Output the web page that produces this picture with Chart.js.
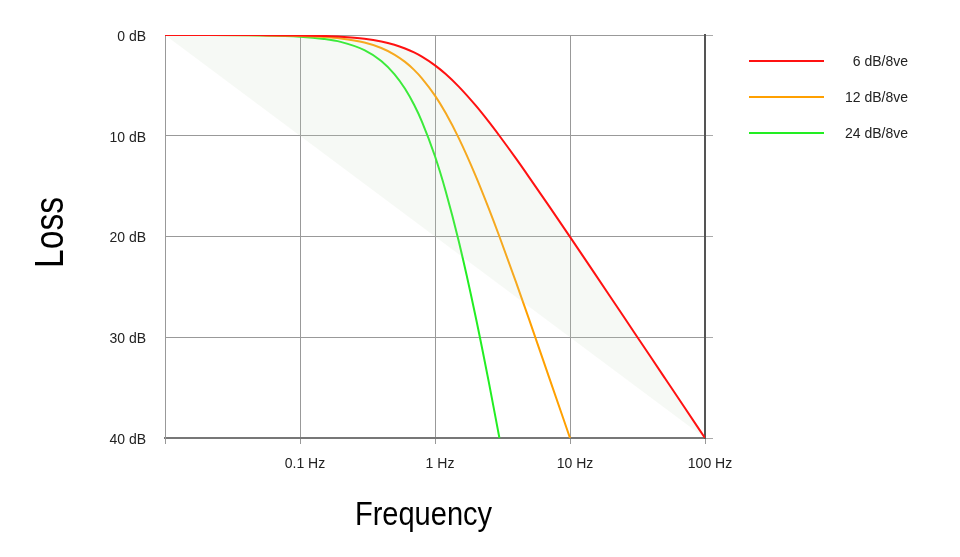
<!DOCTYPE html>
<html>
<head>
<meta charset="utf-8">
<script src="https://cdn.jsdelivr.net/npm/chart.js@4.4.1/dist/chart.umd.min.js"></script>
<style>
  html, body { margin: 0; padding: 0; background: #fff; }
  #wrap { width: 960px; height: 557px; position: relative; }
</style>
</head>
<body>
<div id="wrap"><canvas id="filterChart"></canvas></div>
<script>
const freqHz = [0.01, 0.02, 0.05, 0.1, 0.15, 0.2, 0.3, 0.4, 0.5, 0.6, 0.7, 0.8, 1, 1.2, 1.5, 2, 2.5, 3, 4, 5, 7, 10, 15, 20, 30, 50, 70, 100];

// loss in dB for each slope
const loss6 = [0, 0, 0.01, 0.04, 0.10, 0.17, 0.37, 0.64, 0.97, 1.34, 1.73, 2.15, 3.01, 3.87, 5.12, 6.99, 8.60, 10.0, 12.30, 14.15, 16.99, 20.04, 23.54, 26.03, 29.55, 33.98, 36.90, 40.0];
const loss12 = [0, 0, 0.02, 0.09, 0.19, 0.34, 0.75, 1.29, 1.94, 2.67, 3.46, 4.30, 6.02, 7.75, 10.24, 13.98, 17.21, 20.0, 24.61, 28.30, 33.98, 40.0];
const loss24 = [0, 0, 0.04, 0.17, 0.39, 0.68, 1.50, 2.58, 3.88, 5.34, 6.93, 8.59, 12.04, 15.50, 20.48, 27.96, 34.41, 40.0];

// straight asymptote bounding the shaded band
const asymFreq = [0.01, 100];
const asymLoss = [0, 40];

const seriesNames = ['6 dB/8ve', '12 dB/8ve', '24 dB/8ve'];
const seriesColors = ['#ff1111', '#ffa000', '#22ee22'];

const xTickValues = [0.01, 0.1, 1, 10, 100];
const xTickLabels = ['', '0.1 Hz', '1 Hz', '10 Hz', '100 Hz'];
const yTickStep = 10;

const xTitle = 'Frequency';
const yTitle = 'Loss';

function toPoints(xs, ys) {
    return ys.map((y, i) => ({ x: xs[i], y: y }));
}

const sansFamily = "'Liberation Sans', Arial, sans-serif";
const tickFont = { family: sansFamily, size: 14 };

// axis titles in a narrow face (squeezed, no narrow font installed)
const axisTitles = {
    id: 'axisTitles',
    afterDraw(chart) {
        const c = chart.ctx;
        const area = chart.chartArea;
        const midX = (area.left + area.right) / 2;
        const midY = (area.top + area.bottom) / 2;
        c.save();
        c.fillStyle = '#000';
        c.textAlign = 'center';
        c.textBaseline = 'alphabetic';

        c.save();
        c.translate(area.left - 102, midY - 4);
        c.rotate(-Math.PI / 2);
        c.scale(0.82, 1);
        c.font = '41px ' + sansFamily;
        c.fillText(yTitle, 0, 0);
        c.restore();

        c.save();
        c.translate(midX - 11.5, area.bottom + 87);
        c.scale(0.88, 1);
        c.font = '33px ' + sansFamily;
        c.fillText(xTitle, 0, 0);
        c.restore();

        c.restore();
    }
};

// legend drawn to the right of the plot: line sample, then right aligned text
const sideLegend = {
    id: 'sideLegend',
    afterDraw(chart) {
        const c = chart.ctx;
        const area = chart.chartArea;
        c.save();
        c.font = '14px ' + sansFamily;
        c.textAlign = 'right';
        c.textBaseline = 'middle';
        seriesNames.forEach((name, i) => {
            const y = area.top + 26 + i * 36;
            c.strokeStyle = seriesColors[i];
            c.lineWidth = 2;
            c.beginPath();
            c.moveTo(area.right + 44, y);
            c.lineTo(area.right + 119, y);
            c.stroke();
            c.fillStyle = '#222';
            c.fillText(name, area.right + 203, y + 1);
        });
        c.restore();
    }
};

const lineStyle = {
    borderWidth: 2,
    pointRadius: 0,
    cubicInterpolationMode: 'monotone',
    fill: false
};

new Chart(document.getElementById('filterChart'), {
    type: 'line',
    data: {
        datasets: [
            { ...lineStyle, label: seriesNames[0], data: toPoints(freqHz, loss6), borderColor: seriesColors[0],
              fill: { target: 3 }, backgroundColor: 'rgba(200,215,195,0.16)' },
            { ...lineStyle, label: seriesNames[1], data: toPoints(freqHz, loss12), borderColor: seriesColors[1] },
            { ...lineStyle, label: seriesNames[2], data: toPoints(freqHz, loss24), borderColor: seriesColors[2] },
            { label: 'asymptote', data: toPoints(asymFreq, asymLoss), borderWidth: 0, pointRadius: 0, borderColor: 'rgba(0,0,0,0)', fill: false }
        ]
    },
    options: {
        responsive: true,
        maintainAspectRatio: false,
        animation: false,
        layout: {
            padding: { top: 35, right: 245, bottom: 0, left: 0 }
        },
        scales: {
            x: {
                type: 'logarithmic',
                min: 0.01,
                max: 100,
                afterBuildTicks: (scale) => { scale.ticks = xTickValues.map(v => ({ value: v })); },
                afterFit: (scale) => { scale.height = 119; },
                ticks: {
                    autoSkip: false,
                    maxRotation: 0,
                    padding: 12,
                    labelOffset: 5,
                    color: '#222',
                    font: tickFont,
                    callback: (v) => xTickLabels[xTickValues.indexOf(v)] ?? ''
                },
                grid: { color: '#999', lineWidth: 1, tickLength: 6 },
                border: { color: '#777', width: 2 }
            },
            y: {
                type: 'linear',
                position: 'left',
                reverse: true,
                min: 0,
                max: 40,
                afterFit: (scale) => { scale.width = 165; },
                ticks: {
                    stepSize: yTickStep,
                    padding: 19,
                    labelOffset: 2,
                    color: '#222',
                    font: tickFont,
                    callback: (v) => v + ' dB'
                },
                grid: { color: '#999', lineWidth: 1, drawTicks: false },
                border: { color: '#999', width: 1 }
            },
            yRight: {
                type: 'linear',
                position: 'right',
                reverse: true,
                min: 0,
                max: 40,
                afterFit: (scale) => { scale.width = 10; },
                ticks: { display: false, stepSize: yTickStep },
                grid: { drawOnChartArea: false, color: '#aaa', tickLength: 8 },
                border: { color: '#555', width: 2 }
            }
        },
        plugins: {
            legend: { display: false },
            tooltip: { enabled: false }
        }
    },
    plugins: [axisTitles, sideLegend]
});
</script>
</body>
</html>
